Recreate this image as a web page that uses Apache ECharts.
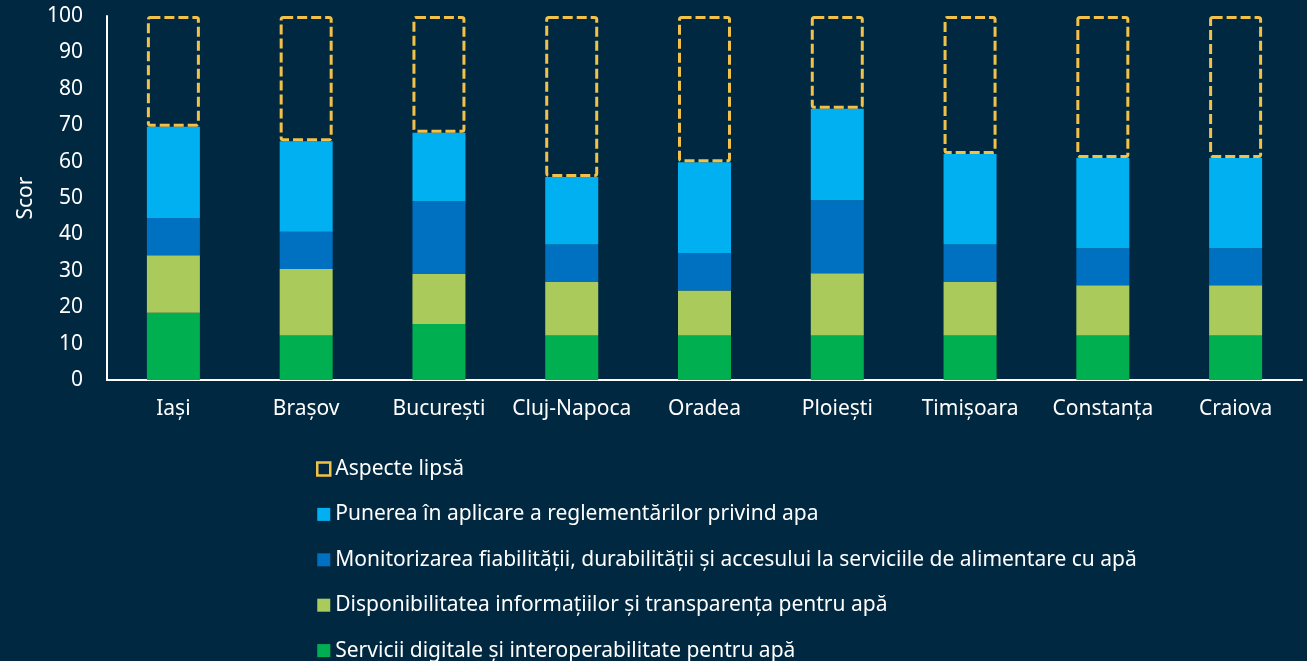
<!DOCTYPE html>
<html>
<head>
<meta charset="utf-8">
<script src="https://cdn.jsdelivr.net/npm/echarts@6/dist/echarts.min.js"></script>
<style>
  html, body { margin: 0; padding: 0; background: #002841; }
  #chart { width: 1307px; height: 661px; }
</style>
</head>
<body>
<div id="chart"></div>
<script>
var cities = ['Iași', 'Brașov', 'București', 'Cluj-Napoca', 'Oradea', 'Ploiești', 'Timișoara', 'Constanța', 'Craiova'];

// scoruri pe componente
var serviciiDigitale = [18.5, 12.2, 15.4, 12.2, 12.2, 12.2, 12.2, 12.2, 12.2];
var disponibilitate  = [15.8, 18.3, 13.7, 14.7, 12.4, 17.1, 14.7, 13.8, 13.8];
var monitorizare     = [10.2, 10.2, 20.0, 10.3, 10.2, 20.1, 10.3, 10.2, 10.2];
var punere           = [25.1, 24.9, 18.8, 18.6, 25.0, 25.1, 24.9, 24.8, 24.8];

var names = [
    'Servicii digitale și interoperabilitate pentru apă',
    'Disponibilitatea informațiilor și transparența pentru apă',
    'Monitorizarea fiabilității, durabilității și accesului la serviciile de alimentare cu apă',
    'Punerea în aplicare a reglementărilor privind apa',
    'Aspecte lipsă'
];

// ce lipseste pana la 100
var lipsa = cities.map(function (c, i) {
    var s = serviciiDigitale[i] + disponibilitate[i] + monitorizare[i] + punere[i];
    return +(100 - s).toFixed(1);
});

var font = 'Noto Sans';
var yellow = '#F2C14A';

var myChart = echarts.init(document.getElementById('chart'));
var option = {
    backgroundColor: '#002841',
    textStyle: { fontFamily: font },
    grid: { left: 107, right: 5, top: 16, bottom: 281 },
    legend: {
        orient: 'vertical',
        left: 311,
        top: 453,
        height: 260,
        itemWidth: 13,
        itemHeight: 13,
        itemGap: 23.4,
        icon: 'rect',
        textStyle: { color: '#ffffff', fontSize: 21, lineHeight: 22, fontFamily: font },
        data: [
            { name: names[4], itemStyle: { color: 'transparent', borderColor: yellow, borderWidth: 2.5, borderType: 'solid' } },
            names[3], names[2], names[1], names[0]
        ]
    },
    xAxis: {
        type: 'category',
        data: cities,
        axisLine: { lineStyle: { color: '#ffffff', width: 2 } },
        axisTick: { show: false },
        axisLabel: { color: '#ffffff', fontSize: 21, margin: 19, interval: 0, fontFamily: font }
    },
    yAxis: {
        type: 'value',
        min: 0,
        max: 100,
        interval: 10,
        name: 'Scor',
        nameLocation: 'middle',
        nameGap: 66,
        nameTextStyle: { color: '#ffffff', fontSize: 21, fontFamily: font },
        axisLine: { show: true, lineStyle: { color: '#ffffff', width: 2 } },
        axisTick: { show: false },
        splitLine: { show: false },
        axisLabel: { color: '#ffffff', fontSize: 21, margin: 24, fontFamily: font }
    },
    series: [
        { name: names[0], type: 'bar', stack: 'total', barWidth: 53, data: serviciiDigitale, itemStyle: { color: '#00B050' } },
        { name: names[1], type: 'bar', stack: 'total', data: disponibilitate, itemStyle: { color: '#AACB5B' } },
        { name: names[2], type: 'bar', stack: 'total', data: monitorizare, itemStyle: { color: '#0070C0' } },
        { name: names[3], type: 'bar', stack: 'total', data: punere, itemStyle: { color: '#00B0F0' } },
        {
            name: names[4], type: 'bar', stack: 'total', data: lipsa,
            itemStyle: {
                color: 'transparent',
                borderColor: yellow,
                borderWidth: 3,
                borderType: [10, 4],
                borderRadius: 2
            }
        }
    ]
};

myChart.setOption(option);
</script>
</body>
</html>
